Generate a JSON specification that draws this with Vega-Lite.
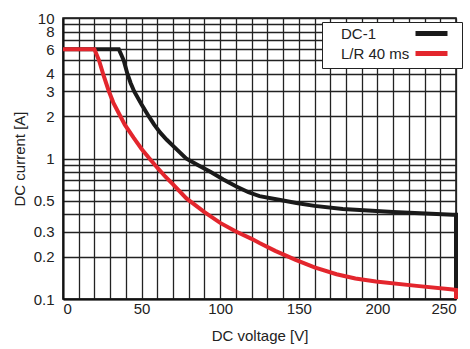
{
  "$schema": "https://vega.github.io/schema/vega-lite/v6.json",
  "width": 393,
  "height": 281,
  "autosize": {"type": "none"},
  "padding": {"left": 63, "top": 18, "right": 14, "bottom": 50},
  "config": {
    "font": "Liberation Sans",
    "view": {"stroke": "#111", "strokeWidth": 1.5},
    "axis": {
      "labelFont": "Liberation Sans",
      "titleFont": "Liberation Sans",
      "labelFontSize": 15,
      "titleFontSize": 15,
      "titleFontWeight": "normal",
      "labelColor": "#222",
      "titleColor": "#222",
      "gridColor": "#222",
      "gridWidth": 1.3,
      "gridOpacity": 1,
      "domainColor": "#111",
      "domainWidth": 2,
      "ticks": false
    }
  },
  "data": {
    "values": [
      {"s": "DC-1", "i": 0, "v": 0, "a": 6},
      {"s": "DC-1", "i": 1, "v": 35.5, "a": 6},
      {"s": "DC-1", "i": 2, "v": 37, "a": 5.5},
      {"s": "DC-1", "i": 3, "v": 38.6, "a": 5.0},
      {"s": "DC-1", "i": 4, "v": 41, "a": 4.0},
      {"s": "DC-1", "i": 5, "v": 43, "a": 3.45},
      {"s": "DC-1", "i": 6, "v": 45.3, "a": 3.0},
      {"s": "DC-1", "i": 7, "v": 50, "a": 2.42},
      {"s": "DC-1", "i": 8, "v": 54.5, "a": 2.0},
      {"s": "DC-1", "i": 9, "v": 58, "a": 1.74},
      {"s": "DC-1", "i": 10, "v": 62, "a": 1.52},
      {"s": "DC-1", "i": 11, "v": 66, "a": 1.36},
      {"s": "DC-1", "i": 12, "v": 71, "a": 1.2},
      {"s": "DC-1", "i": 13, "v": 78.3, "a": 1.0},
      {"s": "DC-1", "i": 14, "v": 85.7, "a": 0.9},
      {"s": "DC-1", "i": 15, "v": 94, "a": 0.8},
      {"s": "DC-1", "i": 16, "v": 102, "a": 0.71},
      {"s": "DC-1", "i": 17, "v": 110.3, "a": 0.632},
      {"s": "DC-1", "i": 18, "v": 118, "a": 0.575},
      {"s": "DC-1", "i": 19, "v": 125, "a": 0.54},
      {"s": "DC-1", "i": 20, "v": 137.4, "a": 0.509},
      {"s": "DC-1", "i": 21, "v": 148.5, "a": 0.482},
      {"s": "DC-1", "i": 22, "v": 160, "a": 0.46},
      {"s": "DC-1", "i": 23, "v": 178, "a": 0.437},
      {"s": "DC-1", "i": 24, "v": 210, "a": 0.416},
      {"s": "DC-1", "i": 25, "v": 248, "a": 0.398},
      {"s": "DC-1", "i": 26, "v": 250, "a": 0.398},
      {"s": "DC-1", "i": 27, "v": 250, "a": 0.1},
      {"s": "L/R 40 ms", "i": 0, "v": 0, "a": 6},
      {"s": "L/R 40 ms", "i": 1, "v": 20, "a": 6},
      {"s": "L/R 40 ms", "i": 2, "v": 22.9, "a": 5},
      {"s": "L/R 40 ms", "i": 3, "v": 25.5, "a": 4},
      {"s": "L/R 40 ms", "i": 4, "v": 29, "a": 3.05},
      {"s": "L/R 40 ms", "i": 5, "v": 32, "a": 2.5},
      {"s": "L/R 40 ms", "i": 6, "v": 35.5, "a": 2.1},
      {"s": "L/R 40 ms", "i": 7, "v": 39.3, "a": 1.74},
      {"s": "L/R 40 ms", "i": 8, "v": 45, "a": 1.4},
      {"s": "L/R 40 ms", "i": 9, "v": 50, "a": 1.17},
      {"s": "L/R 40 ms", "i": 10, "v": 55, "a": 1.0},
      {"s": "L/R 40 ms", "i": 11, "v": 60, "a": 0.86},
      {"s": "L/R 40 ms", "i": 12, "v": 65, "a": 0.745},
      {"s": "L/R 40 ms", "i": 13, "v": 70, "a": 0.655},
      {"s": "L/R 40 ms", "i": 14, "v": 78.5, "a": 0.52},
      {"s": "L/R 40 ms", "i": 15, "v": 90, "a": 0.415},
      {"s": "L/R 40 ms", "i": 16, "v": 100, "a": 0.348},
      {"s": "L/R 40 ms", "i": 17, "v": 110, "a": 0.302},
      {"s": "L/R 40 ms", "i": 18, "v": 120, "a": 0.268},
      {"s": "L/R 40 ms", "i": 19, "v": 125, "a": 0.25},
      {"s": "L/R 40 ms", "i": 20, "v": 135, "a": 0.22},
      {"s": "L/R 40 ms", "i": 21, "v": 148, "a": 0.19},
      {"s": "L/R 40 ms", "i": 22, "v": 160, "a": 0.168},
      {"s": "L/R 40 ms", "i": 23, "v": 174, "a": 0.15},
      {"s": "L/R 40 ms", "i": 24, "v": 186, "a": 0.14},
      {"s": "L/R 40 ms", "i": 25, "v": 199, "a": 0.133},
      {"s": "L/R 40 ms", "i": 26, "v": 225, "a": 0.124},
      {"s": "L/R 40 ms", "i": 27, "v": 248, "a": 0.117},
      {"s": "L/R 40 ms", "i": 28, "v": 250, "a": 0.116},
      {"s": "L/R 40 ms", "i": 29, "v": 250, "a": 0.1}
    ]
  },
  "mark": {"type": "line", "strokeWidth": 4, "strokeJoin": "miter", "clip": false},
  "encoding": {
    "x": {
      "field": "v",
      "type": "quantitative",
      "title": "DC voltage [V]",
      "scale": {"domain": [0, 250], "nice": false},
      "axis": {
        "values": [0,10,20,30,40,50,60,70,80,90,100,110,120,130,140,150,160,170,180,190,200,210,220,230,240,250],
        "labelExpr": "datum.value % 50 === 0 ? datum.label : ''",
        "labelPadding": 2,
        "titlePadding": 12,
        "labelOverlap": false
      }
    },
    "y": {
      "field": "a",
      "type": "quantitative",
      "title": "DC current [A]",
      "scale": {"type": "log", "domain": [0.1, 10], "nice": false},
      "axis": {
        "values": [0.1,0.2,0.3,0.4,0.5,0.6,0.7,0.8,0.9,1,2,3,4,5,6,7,8,9,10],
        "format": "~g",
        "labelExpr": "indexof([0.1,0.2,0.3,0.5,1,2,3,4,6,8,10], datum.value) >= 0 ? datum.label : ''",
        "labelPadding": 9,
        "titlePadding": 6,
        "labelOverlap": false
      }
    },
    "order": {"field": "i", "type": "quantitative"},
    "color": {
      "field": "s",
      "type": "nominal",
      "scale": {"domain": ["DC-1", "L/R 40 ms"], "range": ["#1a1a1a", "#e3262d"]},
      "legend": {
        "title": null,
        "orient": "none",
        "legendX": 259,
        "legendY": 4,
        "fillColor": "white",
        "strokeColor": "#222",
        "padding": 4,
        "labelFont": "Liberation Sans",
        "labelFontSize": 15,
        "labelColor": "#222",
        "symbolType": "M41,0H57",
        "symbolSize": 16,
        "symbolStrokeWidth": 5,
        "labelOffset": 0,
        "rowPadding": -1
      }
    }
  }
}
